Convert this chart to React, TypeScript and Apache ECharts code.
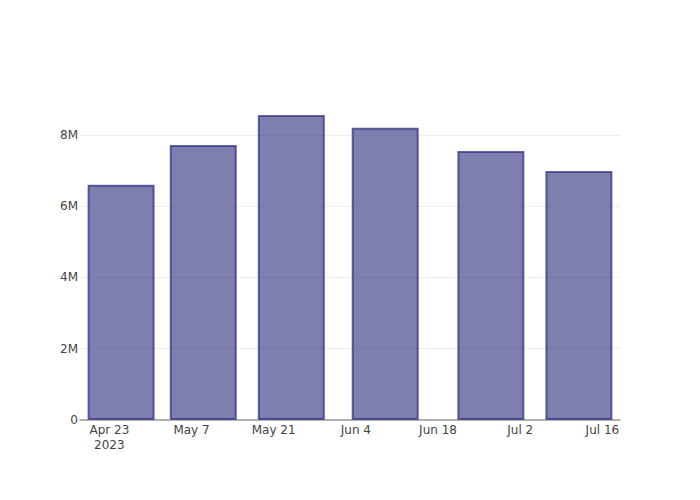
import React, { useEffect, useRef } from "react";
import * as echarts from "echarts";

const barDates = ["2023-04-25", "2023-05-09", "2023-05-24", "2023-06-09", "2023-06-27", "2023-07-12"];
const barValues = [6.6e6, 7.72e6, 8.56e6, 8.2e6, 7.55e6, 6.99e6];
const tickDates = ["2023-04-23", "2023-05-07", "2023-05-21", "2023-06-04", "2023-06-18", "2023-07-02", "2023-07-16"];
const yTicks = [0, 2e6, 4e6, 6e6, 8e6];
const xRange = ["2023-04-18", "2023-07-19"];
const yMax = 8.98e6;

const MONTHS = ["Jan", "Feb", "Mar", "Apr", "May", "Jun", "Jul", "Aug", "Sep", "Oct", "Nov", "Dec"];
const ts = (s: string) => Date.parse(s + "T00:00:00Z");

export default function App() {
  const ref = useRef<HTMLDivElement>(null);
  useEffect(() => {
    const chart = echarts.init(ref.current!, null, { renderer: "svg" });
    const firstTick = ts(tickDates[0]);
    chart.setOption({
      animation: false,
      textStyle: { fontFamily: "DejaVu Sans" },
      grid: { left: 80, right: 80, top: 100, bottom: 80 },
      xAxis: {
        type: "value",
        min: ts(xRange[0]),
        max: ts(xRange[1]),
        axisLine: { show: true, onZero: false, lineStyle: { color: "#999", width: 1.5 } },
        axisTick: { show: false },
        splitLine: { show: false },
        axisLabel: {
          customValues: tickDates.map(ts),
          color: "#444",
          fontSize: 12,
          margin: 2,
          lineHeight: 15,
          formatter: (v: number) => {
            const d = new Date(v);
            const s = MONTHS[d.getUTCMonth()] + " " + d.getUTCDate();
            return Math.abs(v - firstTick) < 1000 ? s + "\n" + d.getUTCFullYear() : s;
          },
        },
      },
      yAxis: {
        type: "value",
        min: 0,
        max: yMax,
        interval: 2e6,
        axisLine: { show: false },
        axisTick: { show: false },
        splitLine: { show: true, showMaxLine: false, showMinLine: false, lineStyle: { color: "#eeeeee", width: 1 } },
        axisLabel: {
          customValues: yTicks,
          color: "#444",
          fontSize: 12,
          margin: 2,
          formatter: (v: number) => (v === 0 ? "0" : v / 1e6 + "M"),
        },
      },
      series: [
        {
          type: "bar",
          barWidth: 67,
          data: barDates.map((d, i) => [ts(d), barValues[i]]),
          itemStyle: {
            color: "rgba(42,42,122,0.6)",
            borderColor: "rgba(50,50,130,0.75)",
            borderWidth: 2,
          },
        },
      ],
    });
    return () => chart.dispose();
  }, []);
  return <div ref={ref} style={{ width: 700, height: 500, position: "absolute", left: 0, top: 0 }} />;
}
